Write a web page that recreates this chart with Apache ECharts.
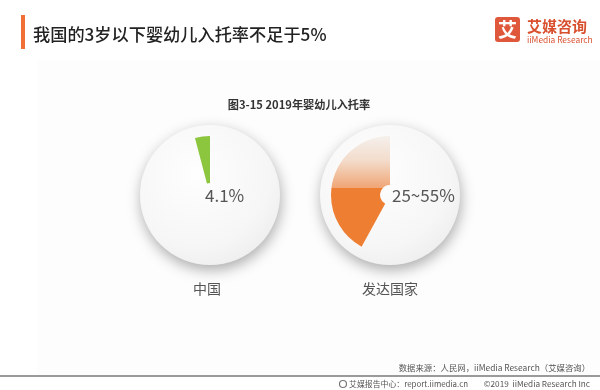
<!DOCTYPE html>
<html><head><meta charset="utf-8">
<script src="https://cdn.jsdelivr.net/npm/echarts@6/dist/echarts.min.js"></script>
<style>html,body{margin:0;padding:0;background:#fff}#c{width:600px;height:390px}</style>
</head><body><div id="c"></div>
<script>
const categories = ['中国', '发达国家'];
const shares = [4.1, 42];
const valueLabels = ['4.1%', '25~55%'];
const titleText = '我国的3岁以下婴幼儿入托率不足于5%';
const subtitleText = '图3-15 2019年婴幼儿入托率';
const sourceText = '数据来源：人民网，iiMedia Research（艾媒咨询）';
const footerLeft = '艾媒报告中心：report.iimedia.cn';
const footerRight = '©2019  iiMedia Research Inc';

const FONT = '"Noto Sans CJK SC", "Noto Sans", sans-serif';
const centers = [[210, 195], [390, 195]];
const innerR = [12, 10];
const labelX = [205, 392];

const green = '#8cc63f';
const orangeGrad = {
  type: 'linear', x: 0, y: 136, x2: 0, y2: 247, global: true,
  colorStops: [
    {offset: 0, color: '#f5f0ec'},
    {offset: 0.22, color: '#f3dccb'},
    {offset: 0.465, color: '#f0a676'},
    {offset: 0.47, color: '#ee7e31'},
    {offset: 1, color: '#ee7e31'}
  ]
};
const sliceColors = [green, orangeGrad];

const series = [];
categories.forEach((c, i) => {
  series.push({
    type: 'pie', silent: true, animation: false,
    center: centers[i], radius: [0, 70],
    label: {show: false}, labelLine: {show: false},
    emphasis: {disabled: true},
    data: [{value: 1, name: c + '_bg', itemStyle: {
      color: {type: 'radial', x: 0.4, y: 0.35, r: 0.75, colorStops: [
        {offset: 0, color: '#fefefe'}, {offset: 0.7, color: '#f6f6f6'}, {offset: 1, color: '#ececec'}]},
      shadowBlur: 14, shadowOffsetY: 5, shadowOffsetX: 1, shadowColor: 'rgba(0,0,0,0.32)'
    }}]
  });
  series.push({
    type: 'pie', silent: true, animation: false,
    center: centers[i], radius: [innerR[i], 59],
    startAngle: 90, clockwise: false,
    label: {show: false}, labelLine: {show: false},
    emphasis: {disabled: true},
    data: [
      {value: shares[i], name: c, itemStyle: {color: sliceColors[i]}},
      {value: 100 - shares[i], name: c + '_rest', itemStyle: {color: 'rgba(0,0,0,0)'}}
    ]
  });
});

const graphic = [
  {type: 'rect', shape: {x: 37, y: 60, width: 563, height: 316}, style: {fill: '#fdfdfd'}, z: -10},
  {type: 'rect', shape: {x: 21, y: 15, width: 4, height: 34}, style: {fill: '#f07038'}},
  {type: 'text', x: 33, y: 34, style: {text: titleText, font: '500 17.2px ' + FONT, fill: '#222', textVerticalAlign: 'middle'}},
  {type: 'rect', shape: {x: 495, y: 17, width: 25, height: 25, r: 3}, style: {fill: '#e0583b'}},
  {type: 'text', x: 507.5, y: 30, style: {text: '艾', font: 'bold 19px ' + FONT, fill: '#fff', textAlign: 'center', textVerticalAlign: 'middle'}},
  {type: 'text', x: 527, y: 26, style: {text: '艾媒咨询', font: 'bold 15px ' + FONT, fill: '#d9502f', textVerticalAlign: 'middle'}},
  {type: 'text', x: 527, y: 39.5, style: {text: 'iiMedia Research', font: '8.4px ' + FONT, fill: '#d9502f', textVerticalAlign: 'middle'}},
  {type: 'text', x: 299, y: 105, style: {text: subtitleText, font: 'bold 11.2px ' + FONT, fill: '#333', textAlign: 'center', textVerticalAlign: 'middle'}},
  {type: 'line', shape: {x1: 0, y1: 376, x2: 600, y2: 376}, style: {stroke: '#9a9a9a', lineWidth: 2}},
  {type: 'text', x: 590, y: 368, style: {text: sourceText, font: '8.4px ' + FONT, fill: '#555', textAlign: 'right', textVerticalAlign: 'middle'}},
  {type: 'circle', shape: {cx: 343, cy: 384, r: 3.5}, style: {fill: 'none', stroke: '#777', lineWidth: 1.2}},
  {type: 'text', x: 349, y: 384, style: {text: footerLeft, font: '7.9px ' + FONT, fill: '#555', textVerticalAlign: 'middle'}},
  {type: 'text', x: 590, y: 384, style: {text: footerRight, font: '8.2px ' + FONT, fill: '#555', textAlign: 'right', textVerticalAlign: 'middle'}}
];
categories.forEach((c, i) => {
  graphic.push({type: 'text', x: labelX[i], y: 196, z: 10, style: {text: valueLabels[i], font: '17px ' + FONT, fill: '#555', textVerticalAlign: 'middle'}});
  graphic.push({type: 'text', x: centers[i][0] - 3 + (i ? 3 : 0), y: 289, style: {text: c, font: '14px ' + FONT, fill: '#555', textAlign: 'center', textVerticalAlign: 'middle'}});
});

const chart = echarts.init(document.getElementById('c'), null, {renderer: 'canvas'});
chart.setOption({animation: false, backgroundColor: '#fff', series, graphic});
</script></body></html>
